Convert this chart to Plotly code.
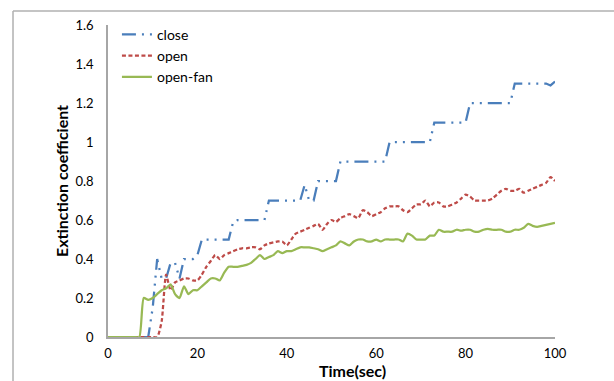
import plotly.graph_objects as go

time_sec = list(range(0, 101))

close = [0, 0, 0, 0, 0, 0, 0, 0, 0, 0,
         0.15, 0.40, 0.30, 0.30, 0.38, 0.38, 0.30, 0.40, 0.40, 0.40,
         0.42, 0.50, 0.50, 0.50, 0.50, 0.50, 0.50, 0.50, 0.59, 0.60,
         0.60, 0.60, 0.60, 0.60, 0.60, 0.60, 0.70, 0.70, 0.70, 0.70,
         0.70, 0.70, 0.70, 0.70, 0.78, 0.70, 0.70, 0.80, 0.80, 0.80,
         0.80, 0.80, 0.90, 0.90, 0.90, 0.90, 0.90, 0.90, 0.90, 0.90,
         0.90, 0.90, 0.90, 1.00, 1.00, 1.00, 1.00, 1.00, 1.00, 1.00,
         1.00, 1.00, 1.00, 1.10, 1.10, 1.10, 1.10, 1.10, 1.10, 1.10,
         1.10, 1.20, 1.20, 1.20, 1.20, 1.20, 1.20, 1.20, 1.20, 1.20,
         1.20, 1.30, 1.30, 1.30, 1.30, 1.30, 1.30, 1.30, 1.30, 1.29,
         1.31]

open_ = [0, 0, 0, 0, 0, 0, 0, 0, 0, 0,
         0, 0, 0.08, 0.32, 0.24, 0.28, 0.29, 0.30, 0.30, 0.29,
         0.29, 0.32, 0.36, 0.39, 0.42, 0.40, 0.42, 0.43, 0.44, 0.45,
         0.455, 0.455, 0.46, 0.46, 0.45, 0.47, 0.48, 0.485, 0.49, 0.49,
         0.47, 0.50, 0.53, 0.54, 0.55, 0.56, 0.57, 0.58, 0.55, 0.58,
         0.60, 0.59, 0.61, 0.62, 0.63, 0.62, 0.61, 0.65, 0.64, 0.62,
         0.63, 0.64, 0.66, 0.67, 0.67, 0.67, 0.65, 0.64, 0.66, 0.68,
         0.68, 0.70, 0.67, 0.69, 0.69, 0.67, 0.67, 0.68, 0.69, 0.71,
         0.73, 0.72, 0.70, 0.70, 0.70, 0.70, 0.71, 0.73, 0.75, 0.76,
         0.75, 0.75, 0.76, 0.74, 0.75, 0.76, 0.77, 0.78, 0.79, 0.82,
         0.80]

open_fan = [0, 0, 0, 0, 0, 0, 0, 0, 0.20, 0.19,
            0.20, 0.22, 0.24, 0.25, 0.27, 0.22, 0.20, 0.26, 0.22, 0.24,
            0.24, 0.26, 0.28, 0.30, 0.30, 0.29, 0.33, 0.36, 0.36, 0.36,
            0.365, 0.37, 0.38, 0.40, 0.42, 0.40, 0.41, 0.42, 0.44, 0.43,
            0.44, 0.44, 0.45, 0.46, 0.46, 0.46, 0.455, 0.45, 0.44, 0.45,
            0.46, 0.47, 0.49, 0.48, 0.47, 0.49, 0.50, 0.50, 0.49, 0.49,
            0.50, 0.49, 0.50, 0.50, 0.50, 0.50, 0.49, 0.53, 0.52, 0.50,
            0.50, 0.50, 0.52, 0.52, 0.55, 0.54, 0.54, 0.54, 0.55, 0.545,
            0.55, 0.55, 0.54, 0.54, 0.55, 0.555, 0.55, 0.55, 0.55, 0.54,
            0.54, 0.55, 0.55, 0.56, 0.58, 0.57, 0.565, 0.57, 0.575, 0.58,
            0.585]

series_names = ["close", "open", "open-fan"]
y_ticks = [0, 0.2, 0.4, 0.6, 0.8, 1, 1.2, 1.4, 1.6]
y_tick_text = ["0", "0.2", "0.4", "0.6", "0.8", "1", "1.2", "1.4", "1.6"]
x_ticks = [0, 20, 40, 60, 80, 100]
x_title = "Time(sec)"
y_title = "Extinction coefficient"

FONT = "Lato, Open Sans, sans-serif"

fig = go.Figure()
fig.add_trace(go.Scatter(x=time_sec, y=close, name=series_names[0], mode="lines",
                         line=dict(color="#4A7EBB", width=2.25,
                                   dash="14px,6px,2px,6px,2px,6px")))
fig.add_trace(go.Scatter(x=time_sec, y=open_, name=series_names[1], mode="lines",
                         line=dict(color="#BE4B48", width=2.25, dash="4px,2.5px",
                                   shape="spline", smoothing=0.6)))
fig.add_trace(go.Scatter(x=time_sec, y=open_fan, name=series_names[2], mode="lines",
                         line=dict(color="#98B954", width=2.25,
                                   shape="spline", smoothing=0.6)))

axis_font = dict(family=FONT, size=13, color="#000000")

fig.update_layout(
    width=614, height=381,
    margin=dict(l=108, r=59, t=25, b=44, autoexpand=False),
    paper_bgcolor="white", plot_bgcolor="white",
    showlegend=True,
    legend=dict(x=0.02, y=1.02, xanchor="left", yanchor="top",
                bgcolor="rgba(0,0,0,0)", font=dict(family=FONT, size=14, color="#000"),
                itemwidth=30, tracegroupgap=0),
    xaxis=dict(range=[0, 100], tickvals=x_ticks, showgrid=False, zeroline=False, automargin=False,
               showline=True, linecolor="#A6A6A6", linewidth=1.5, ticks="",
               tickfont=axis_font, ticklabelstandoff=4),
    yaxis=dict(range=[0, 1.6], tickvals=y_ticks, ticktext=y_tick_text, showgrid=False, zeroline=False,
               automargin=False,
               showline=True, linecolor="#A6A6A6", linewidth=1.5, ticks="",
               tickfont=axis_font, ticklabelstandoff=10,
               title=dict(text="<b>" + y_title + "</b>", font=dict(family=FONT, size=16, color="#000"),
                          standoff=3)),
    annotations=[
        dict(text="<b>" + x_title + "</b>", xref="paper", yref="paper", x=0.546, y=-0.108,
             xanchor="center", yanchor="middle", showarrow=False,
             font=dict(family=FONT, size=16, color="#000")),
    ],
    shapes=[
        dict(type="line", xref="paper", yref="paper", x0=-0.2125, x1=-0.2125, y0=-0.2, y1=1.045,
             line=dict(color="#B0B0B0", width=1.5)),
        dict(type="line", xref="paper", yref="paper", x0=-0.2125, x1=1.2, y0=1.045, y1=1.045,
             line=dict(color="#B0B0B0", width=1.5)),
    ],
)

fig.write_html("out.html", config={"displayModeBar": False},
               post_script="document.body.style.margin='0';")
